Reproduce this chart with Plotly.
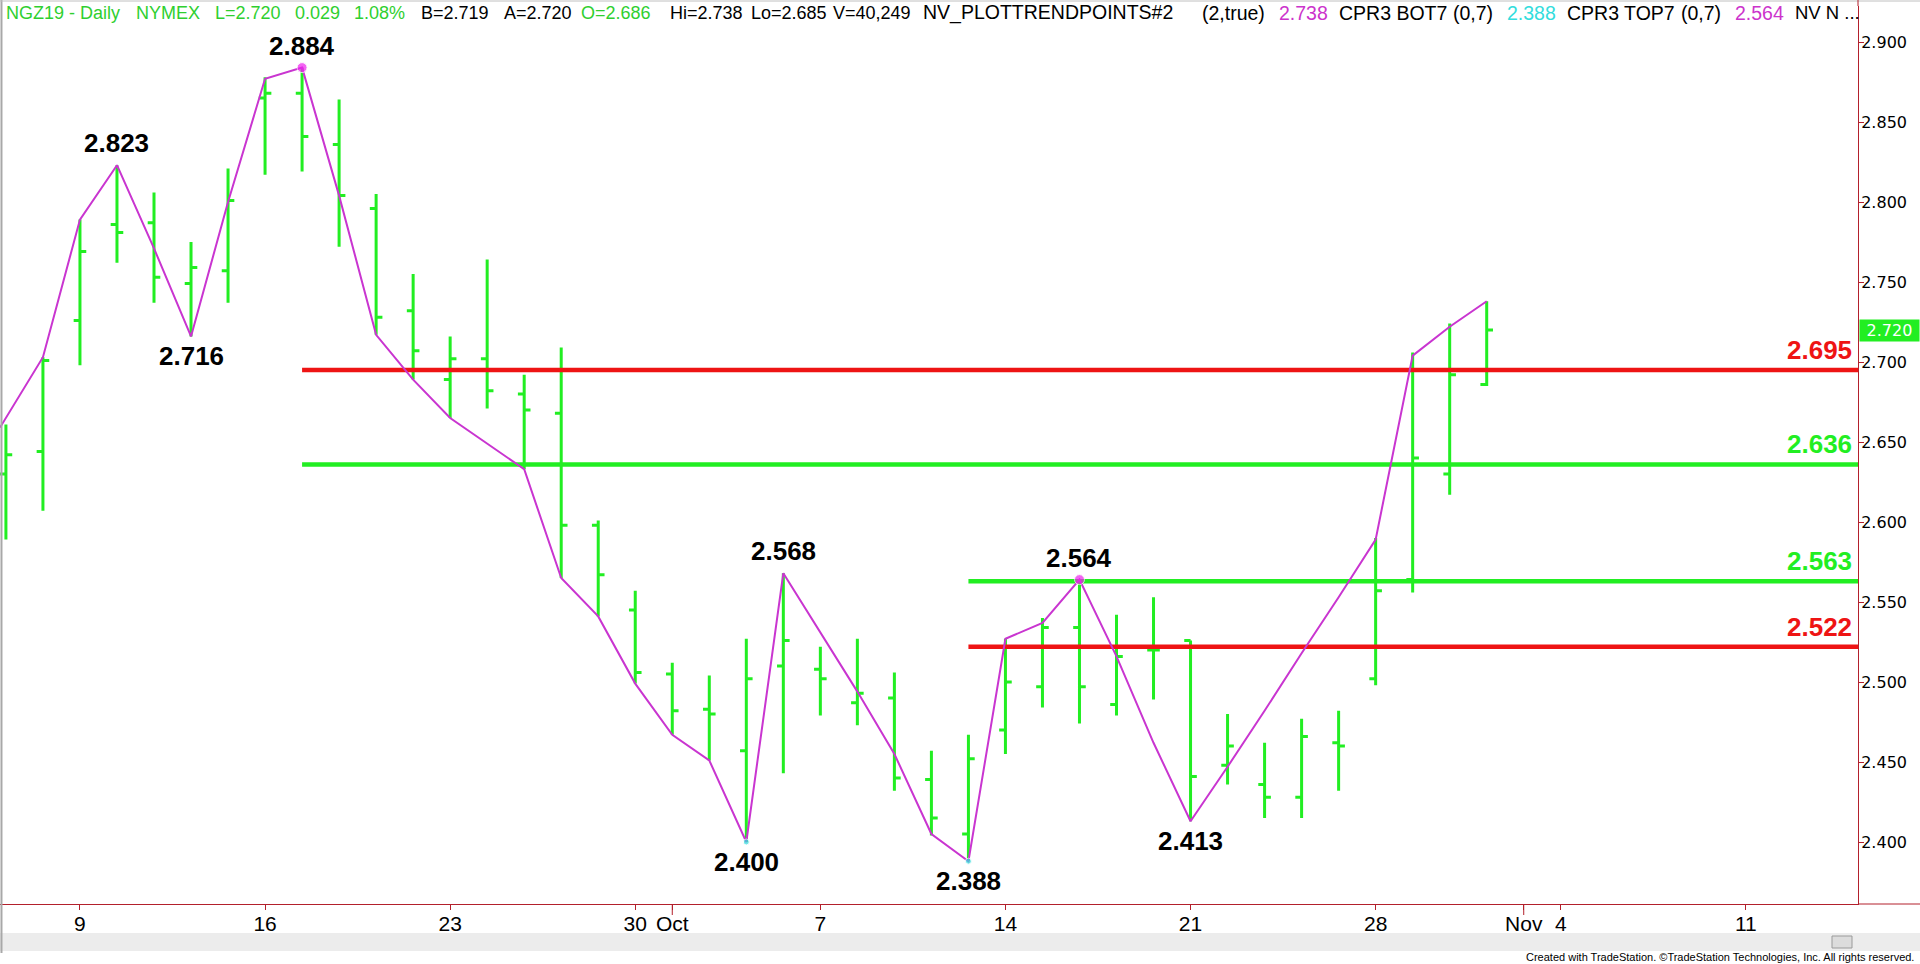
import plotly.graph_objects as go

# ---------------- data ----------------
dates = ['Sep 5', 'Sep 6', 'Sep 9', 'Sep 10', 'Sep 11', 'Sep 12', 'Sep 13', 'Sep 16', 'Sep 17',
         'Sep 18', 'Sep 19', 'Sep 20', 'Sep 23', 'Sep 24', 'Sep 25', 'Sep 26', 'Sep 27', 'Sep 30',
         'Oct 1', 'Oct 2', 'Oct 3', 'Oct 4', 'Oct 7', 'Oct 8', 'Oct 9', 'Oct 10', 'Oct 11',
         'Oct 14', 'Oct 15', 'Oct 16', 'Oct 17', 'Oct 18', 'Oct 21', 'Oct 22', 'Oct 23', 'Oct 24',
         'Oct 25', 'Oct 28', 'Oct 29', 'Oct 30', 'Oct 31']
opens = [2.630, 2.644, 2.726, 2.786, 2.787, 2.749, 2.757, 2.865, 2.868,
         2.836, 2.796, 2.732, 2.689, 2.702, 2.680, 2.668, 2.598, 2.545,
         2.505, 2.483, 2.457, 2.510, 2.508, 2.487, 2.490, 2.439, 2.405,
         2.470, 2.497, 2.534, 2.486, 2.520, 2.526, 2.448, 2.436, 2.428,
         2.462, 2.502, 2.564, 2.630, 2.686]
highs = [2.661, 2.703, 2.789, 2.823, 2.806, 2.775, 2.821, 2.878, 2.884,
         2.864, 2.805, 2.755, 2.716, 2.764, 2.692, 2.709, 2.601, 2.557,
         2.512, 2.504, 2.527, 2.568, 2.522, 2.527, 2.506, 2.457, 2.467,
         2.527, 2.540, 2.564, 2.542, 2.553, 2.526, 2.480, 2.462, 2.477,
         2.482, 2.590, 2.706, 2.724, 2.738]
lows = [2.589, 2.607, 2.698, 2.762, 2.737, 2.716, 2.737, 2.817, 2.819,
        2.772, 2.717, 2.689, 2.665, 2.671, 2.633, 2.565, 2.541, 2.499,
        2.467, 2.451, 2.400, 2.443, 2.479, 2.473, 2.432, 2.404, 2.388,
        2.455, 2.484, 2.474, 2.479, 2.489, 2.413, 2.436, 2.415, 2.415,
        2.432, 2.498, 2.556, 2.617, 2.685]
closes = [2.642, 2.701, 2.769, 2.781, 2.753, 2.759, 2.801, 2.868, 2.841,
          2.804, 2.728, 2.707, 2.702, 2.682, 2.670, 2.598, 2.567, 2.506,
          2.482, 2.480, 2.502, 2.526, 2.502, 2.493, 2.440, 2.415, 2.452,
          2.500, 2.534, 2.497, 2.516, 2.520, 2.441, 2.460, 2.428, 2.466,
          2.460, 2.557, 2.640, 2.692, 2.720]
# NV_PLOTTRENDPOINTS line (one point per bar)
trend = [2.659, 2.703, 2.789, 2.823, 2.771, 2.716, 2.800, 2.877, 2.884,
         2.804, 2.717, 2.689, 2.665, 2.649, 2.633, 2.565, 2.541, 2.499,
         2.467, 2.451, 2.400, 2.568, 2.531, 2.494, 2.455, 2.405, 2.388,
         2.527, 2.537, 2.564, 2.516, 2.462, 2.413, 2.447, 2.482, 2.518,
         2.553, 2.589, 2.704, 2.722, 2.738]

pivot_dates = ['Sep 10', 'Sep 12', 'Sep 17', 'Oct 3', 'Oct 4', 'Oct 11', 'Oct 16', 'Oct 21']
pivot_vals = [2.823, 2.716, 2.884, 2.400, 2.568, 2.388, 2.564, 2.413]
pivot_side = ['above', 'below', 'above', 'below', 'above', 'below', 'above', 'below']

dot_dates = ['Sep 17', 'Oct 3', 'Oct 11', 'Oct 16']
dot_vals = [2.884, 2.400, 2.388, 2.564]
dot_colors = ['#ee22ee', '#33dddd', '#33dddd', '#ee22ee']

level_vals = [2.695, 2.636, 2.563, 2.522]
level_from = ['Sep 17', 'Sep 17', 'Oct 11', 'Oct 11']
level_colors = ['#ee1414', '#22ee22', '#22ee22', '#ee1414']

# x-axis ticks (trading-day positions, incl. future days)
tick_pos = [2, 7, 12, 17, 18, 22, 27, 32, 37, 41, 42, 47]
tick_text = ['9', '16', '23', '30', 'Oct', '7', '14', '21', '28', 'Nov', '4', '11']
y_ticks = [2.400, 2.450, 2.500, 2.550, 2.600, 2.650, 2.700, 2.750, 2.800, 2.850, 2.900]

# header tokens: text, left px, colour, font size
G, K, M, C = '#2fcf2f', '#000000', '#cc33cc', '#33dddd'
header = [
    ('NGZ19 - Daily', 4, G, 18), ('NYMEX', 134, G, 18), ('L=2.720', 213, G, 18),
    ('0.029', 293, G, 18), ('1.08%', 352, G, 18), ('B=2.719', 419, K, 18),
    ('A=2.720', 502, K, 18), ('O=2.686', 579, G, 18), ('Hi=2.738', 668, K, 18),
    ('Lo=2.685', 749, K, 18), ('V=40,249', 831, K, 18),
    ('NV_PLOTTRENDPOINTS#2', 921, K, 19.5), ('(2,true)', 1200, K, 19.5),
    ('2.738', 1277, M, 19.5), ('CPR3 BOT7', 1337, K, 19.5), ('(0,7)', 1451, K, 19.5),
    ('2.388', 1505, C, 19.5), ('CPR3 TOP7', 1565, K, 19.5), ('(0,7)', 1679, K, 19.5),
    ('2.564', 1733, M, 19.5), ('NV N ...', 1793, K, 18.5),
]

# ---------------- figure ----------------
W, H = 1920, 964
PL, PR, PT, PB = 0, 1858, 6, 904     # plot area in pixels
X_RANGE = [-0.16, 50.03]
Y_RANGE = [2.36125, 2.9225]
idx = {d: i for i, d in enumerate(dates)}
x = list(range(len(dates)))

fig = go.Figure()
fig.add_trace(go.Ohlc(
    x=x, open=opens, high=highs, low=lows, close=closes,
    increasing=dict(line=dict(color='#22ee22', width=3)),
    decreasing=dict(line=dict(color='#22ee22', width=3)),
    tickwidth=0.17, hoverinfo='skip', showlegend=False))

for v, d, c in zip(level_vals, level_from, level_colors):
    fig.add_trace(go.Scatter(x=[idx[d], X_RANGE[1]], y=[v, v], mode='lines',
                             line=dict(color=c, width=4.5), hoverinfo='skip', showlegend=False))

fig.add_trace(go.Scatter(x=[X_RANGE[0]] + x[1:], y=trend, mode='lines',
                         line=dict(color='#c935d0', width=2), hoverinfo='skip', showlegend=False))

fig.add_trace(go.Scatter(x=[idx[d] for d in dot_dates], y=dot_vals, mode='markers',
                         marker=dict(color=dot_colors, size=[10, 6, 6, 10]),
                         hoverinfo='skip', showlegend=False))

ann = []
for d, v, s in zip(pivot_dates, pivot_vals, pivot_side):
    ann.append(dict(x=idx[d], y=v, xref='x', yref='y', text=f'{v:.3f}', showarrow=False,
                    yanchor='middle', yshift=22 if s == 'above' else -20,
                    font=dict(family='Liberation Sans, Arial', size=26, color='black', weight='bold')))
for v, c in zip(level_vals, level_colors):
    ann.append(dict(x=X_RANGE[1], y=v, xref='x', yref='y', text=f'{v:.3f}', showarrow=False,
                    xanchor='right', yanchor='bottom', xshift=-4, yshift=3,
                    font=dict(family='Liberation Sans, Arial', size=26, color=c, weight='bold')))
# last price box
ann.append(dict(x=1, y=closes[-1], xref='paper', yref='y', text=f'{closes[-1]:.3f}', showarrow=False,
                xanchor='left', yanchor='middle', xshift=1, bgcolor='#22ee22', borderpad=1,
                font=dict(family='DejaVu Sans', size=16, color='white'), width=57, align='center'))

pw, ph = PR - PL, PB - PT
for t, px, c, fs in header:
    ann.append(dict(x=(px - PL) / pw, y=(PB - 13) / ph, xref='paper', yref='paper', text=t,
                    showarrow=False, xanchor='left', yanchor='middle',
                    font=dict(family='Liberation Sans, Arial', size=fs, color=c)))
ann.append(dict(x=(1916 - PL) / pw, y=(PB - 957) / ph, xref='paper', yref='paper',
                text='Created with TradeStation. \u00a9TradeStation Technologies, Inc. All rights reserved.',
                showarrow=False, xanchor='right', yanchor='middle',
                font=dict(family='Liberation Sans Narrow, Arial Narrow, Liberation Sans', size=11, color='black')))

axis_col = '#b3202c'
shapes = [
    # scrollbar band
    dict(type='rect', xref='paper', yref='paper', x0=0, x1=W / pw, y0=(PB - 951) / ph, y1=(PB - 933) / ph,
         fillcolor='#ececec', line=dict(width=0), layer='below'),
    dict(type='rect', xref='paper', yref='paper', x0=1832 / pw, x1=1852 / pw, y0=(PB - 948) / ph,
         y1=(PB - 936) / ph, fillcolor='#dcdcdc', line=dict(color='#9a9a9a', width=1)),
    # frame
    dict(type='line', xref='paper', yref='paper', x0=0.0008, x1=0.0008, y0=(PB - 953) / ph, y1=PB / ph,
         line=dict(color='#a8a8a8', width=2)),
    dict(type='line', xref='paper', yref='paper', x0=0, x1=W / pw, y0=(PB - 1) / ph, y1=(PB - 1) / ph,
         line=dict(color='#c0c0c0', width=1)),
    # axis extensions
    dict(type='line', xref='paper', yref='paper', x0=1, x1=W / pw, y0=0, y1=0,
         line=dict(color=axis_col, width=1)),
    dict(type='line', xref='paper', yref='paper', x0=1, x1=1, y0=1, y1=PB / ph,
         line=dict(color=axis_col, width=1)),
]
for p, t in zip(tick_pos, tick_text):
    if t in ('Oct', 'Nov'):
        shapes.append(dict(type='line', xref='x', yref='paper', x0=p, x1=p, y0=0, y1=-11 / ph,
                           line=dict(color=axis_col, width=1)))

fig.update_layout(
    width=W, height=H, margin=dict(l=PL, r=W - PR, t=PT, b=H - PB, pad=0),
    plot_bgcolor='white', paper_bgcolor='white', showlegend=False,
    annotations=ann, shapes=shapes,
    xaxis=dict(range=X_RANGE, tickvals=tick_pos, ticktext=tick_text, showgrid=False, zeroline=False,
               showline=True, linecolor=axis_col, linewidth=1, ticks='outside', ticklen=5,
               tickcolor=axis_col, rangeslider=dict(visible=False), ticklabelstandoff=-4,
               tickfont=dict(family='Liberation Sans Narrow, Arial Narrow, Liberation Sans', size=21, color='black')),
    yaxis=dict(range=Y_RANGE, side='right', tickvals=y_ticks, tickformat='.3f', showgrid=False,
               zeroline=False, showline=True, linecolor=axis_col, linewidth=1, ticks='outside',
               ticklen=5, tickcolor=axis_col, ticklabelstandoff=-6,
               tickfont=dict(family='DejaVu Sans', size=16, color='black')),
)

fig.write_html("out.html", config={'displayModeBar': False},
               post_script="document.body.style.margin='0';document.body.style.overflow='hidden';")
